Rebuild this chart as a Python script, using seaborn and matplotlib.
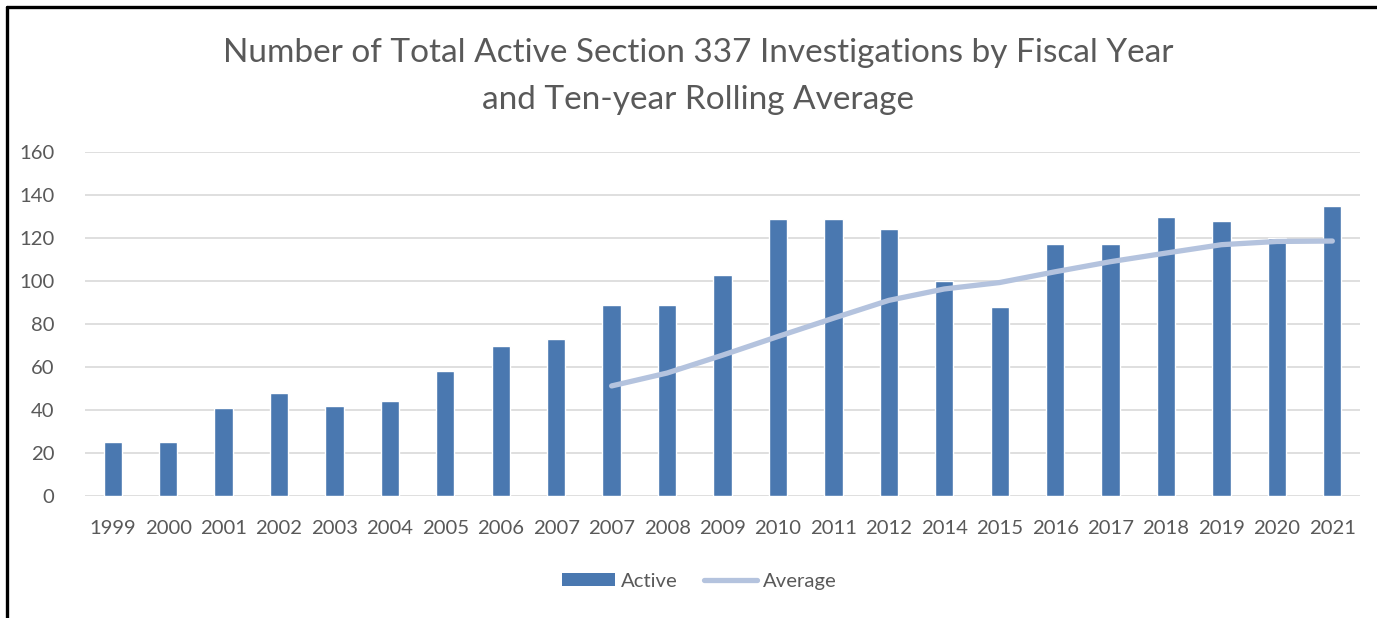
import numpy as np
import pandas as pd
import matplotlib
matplotlib.use('Agg')
import matplotlib.pyplot as plt
import seaborn as sns
from matplotlib.lines import Line2D
from matplotlib.patches import Patch

# Data
years = ['1999', '2000', '2001', '2002', '2003', '2004', '2005', '2006', '2007', '2007',
         '2008', '2009', '2010', '2011', '2012', '2014', '2015', '2016', '2017', '2018',
         '2019', '2020', '2021']
active = [25, 25, 41, 48, 42, 44, 58, 70, 73, 89, 89, 103, 129, 129, 124, 100, 88,
          117, 117, 130, 128, 120, 135]
# ten-year rolling average starts at the second 2007 slot
avg_start = 9
average = [51.2, 57.2, 65.5, 74.2, 82.7, 91.0, 96.3, 99.3, 104.3, 109.0, 113.0,
           116.9, 118.4, 118.6]

bar_color = '#4A78B0'
line_color = '#B4C3DE'
text_color = '#595959'

sns.set_theme(style='white')
plt.rcParams['font.family'] = ['Lato', 'DejaVu Sans']

df = pd.DataFrame({'slot': range(len(years)), 'active': active})
avg_df = pd.DataFrame({'slot': range(avg_start, avg_start + len(average)), 'average': average})

fig = plt.figure(figsize=(13.77, 6.18), dpi=100)
ax = fig.add_axes([0.0617, 0.1974, 0.9260, 0.5566])

sns.barplot(data=df, x='slot', y='active', color=bar_color, width=0.33,
            saturation=1, ax=ax, zorder=2)
sns.lineplot(data=avg_df, x='slot', y='average', color=line_color, linewidth=3.8,
             ax=ax, zorder=3, solid_capstyle='round')

ax.set_ylim(0, 160)
ax.set_xlim(-0.5, len(years) - 0.5)
ax.set_yticks(range(0, 161, 20))
ax.set_xticks(range(len(years)))
ax.set_xticklabels(years)
ax.tick_params(axis='both', labelsize=14.6, colors=text_color, length=0)
ax.tick_params(axis='x', pad=17)
ax.tick_params(axis='y', pad=22)
ax.yaxis.grid(True, color='#D9D9D9', linewidth=1.2, zorder=0)
ax.set_axisbelow(True)
for s in ax.spines.values():
    s.set_visible(False)
ax.set_xlabel('')
ax.set_ylabel('')

fig.text(0.507, 0.914, 'Number of Total Active Section 337 Investigations by Fiscal Year',
         ha='center', va='center', fontsize=24, color=text_color)
fig.text(0.507, 0.838, 'and Ten-year Rolling Average',
         ha='center', va='center', fontsize=24, color=text_color)

handles = [Patch(facecolor=bar_color, edgecolor='none', label='Active'),
           Line2D([0], [0], color=line_color, linewidth=3.8, solid_capstyle='round', label='Average')]
fig.legend(handles=handles, loc='center', bbox_to_anchor=(0.508, 0.059), ncol=2,
           frameon=False, fontsize=14.6, labelcolor=text_color, handlelength=2.6,
           handleheight=0.6, handletextpad=0.3, columnspacing=1.3)

# black frame lines on top and left like the source screenshot
fig.add_artist(Line2D([0.0051, 1.0], [0.9887, 0.9887], color='black', linewidth=2.4,
                      transform=fig.transFigure))
fig.add_artist(Line2D([0.0051, 0.0051], [0.0, 0.9887], color='black', linewidth=2.4,
                      transform=fig.transFigure))

fig.savefig('out.png', dpi=100, facecolor='white')
